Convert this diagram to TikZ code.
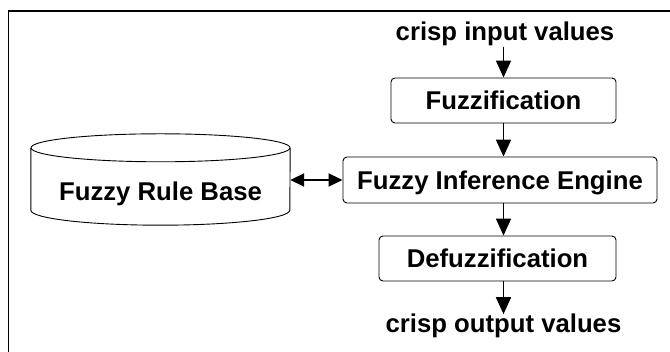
\documentclass[tikz,border=0pt]{standalone}
\usepackage{fontspec}
\setmainfont{Liberation Sans}
\usetikzlibrary{arrows.meta}
\begin{document}
\begin{tikzpicture}[x=1pt,y=1pt,
  txt/.style={font=\bfseries\fontsize{25.7}{30}\selectfont, inner sep=0pt},
  box/.style={txt, draw, line width=0.9pt, rounded corners=4pt, text height=18.5pt, text depth=0pt},
  arr/.style={line width=1.8pt, -{Triangle[length=17pt,width=15pt]}},
  darr/.style={line width=1.8pt, {Triangle[length=14pt,width=13pt]}-{Triangle[length=14pt,width=13pt]}},
  cyl/.style={line width=0.9pt}
]
\useasboundingbox (0,0) rectangle (670,352);
\draw[line width=1.6pt] (8.5,0) -- (8.5,341) -- (670,341);

\node[txt, anchor=base] (in) at (505,311) {crisp input values};
\node[box, minimum width=225pt, minimum height=45pt] (fz) at (503.5,251.5) {Fuzzification};
\node[box, minimum width=314pt, minimum height=46pt] (ie) at (500,172) {Fuzzy Inference Engine};
\node[box, minimum width=237pt, minimum height=45pt] (df) at (497.5,93.5) {Defuzzification};
\node[txt, anchor=base] (out) at (503.5,19) {crisp output values};
\node[txt, minimum width=259pt, minimum height=91pt, text height=41.5pt, text depth=0pt] (rb) at (160.5,172.5) {Fuzzy Rule Base};

\draw[cyl] ([yshift=-14pt]rb.north west) -- ([yshift=15pt]rb.south west)
  arc[start angle=180, end angle=360, x radius=129.5pt, y radius=15pt]
  -- ([yshift=-14pt]rb.north east);
\draw[cyl] ([yshift=-14pt]rb.north) ellipse[x radius=129.5pt, y radius=14pt];

\draw[arr] (in.south -| fz.north) -- (fz.north);
\draw[arr] (fz.south) -- (fz.south |- ie.north);
\draw[arr] (fz.south |- ie.south) -- (fz.south |- df.north);
\draw[arr] (fz.south |- df.south) -- (fz.south |- out.north);
\draw[darr] (rb.east |- ie.west) -- (ie.west);
\end{tikzpicture}
\end{document}
